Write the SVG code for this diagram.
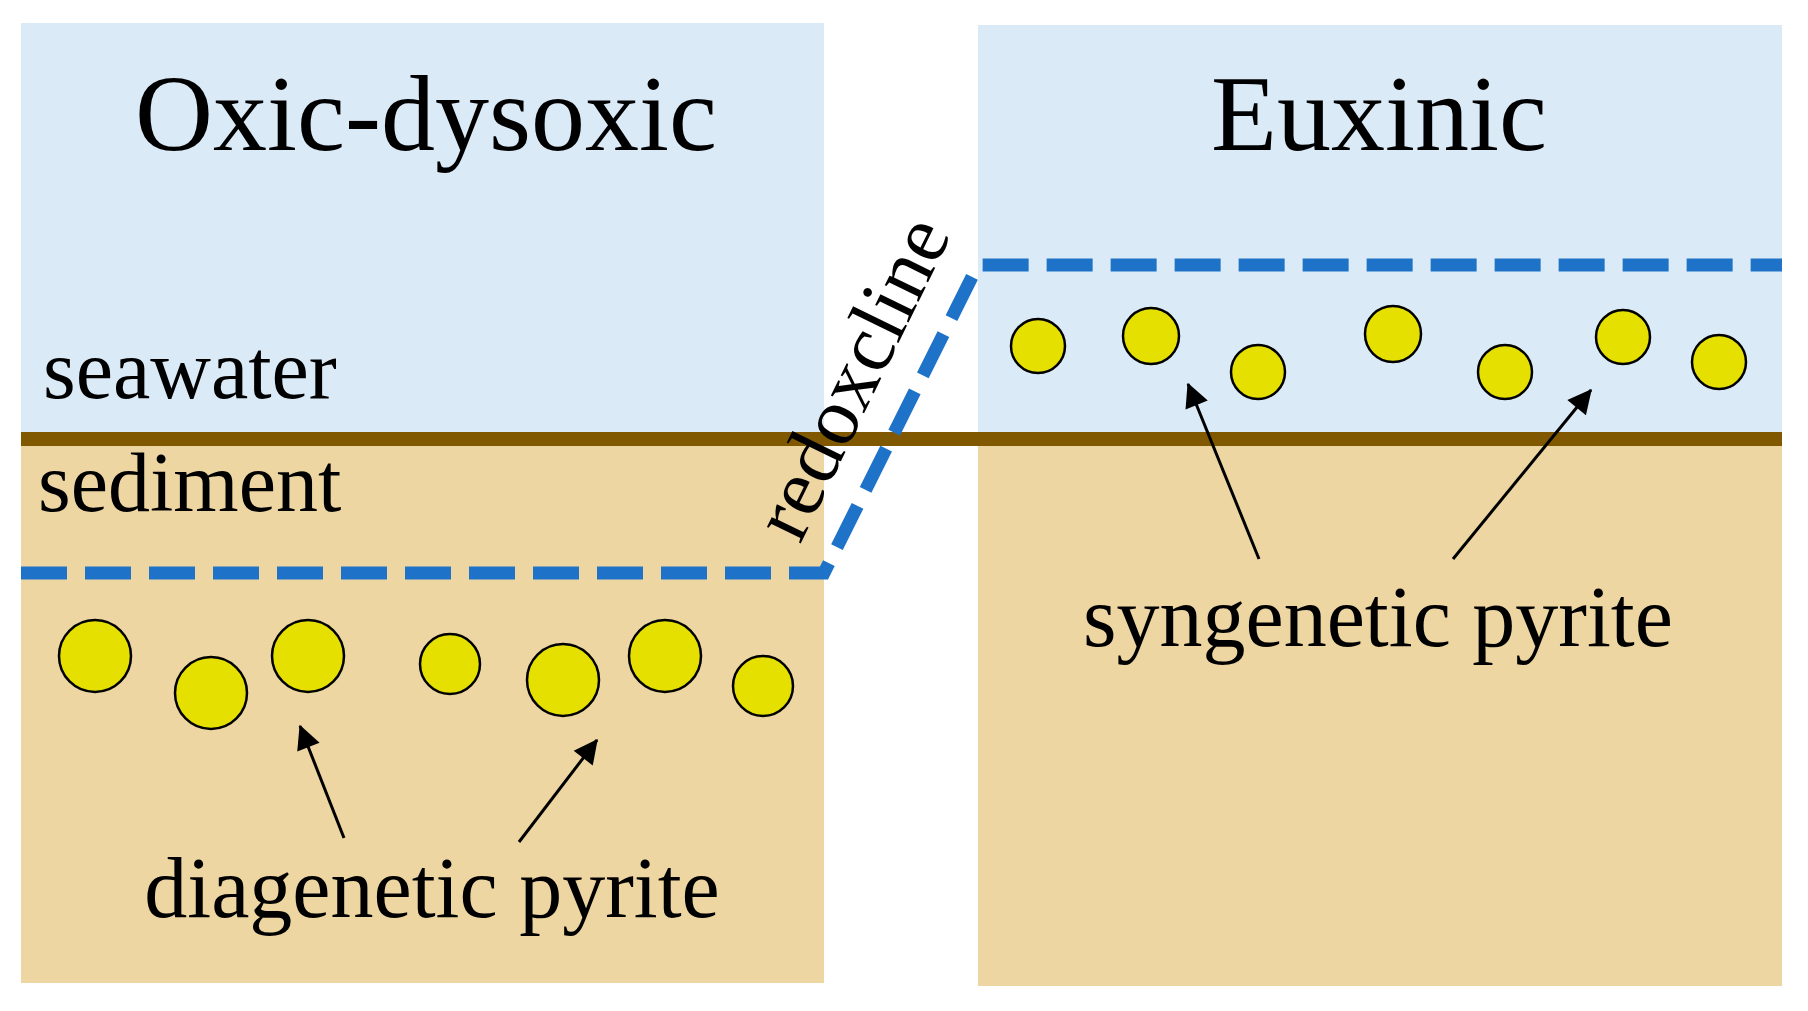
<svg xmlns="http://www.w3.org/2000/svg" width="1808" height="1011" viewBox="0 0 1808 1011">
<style>
.w{fill:#dbeaf7}.s{fill:#eed6a3}
.p{fill:#e5e000;stroke:#000;stroke-width:2.5}
.t{font-family:"Liberation Serif",serif;fill:#000}
.a{stroke:#000;stroke-width:3;fill:none;marker-end:url(#ah)}
</style>
<defs><marker id="ah" viewBox="0 0 10 10" refX="9" refY="5" markerWidth="8" markerHeight="8" markerUnits="userSpaceOnUse" orient="auto" style="overflow:visible"><path d="M0,0L10,5L0,10z" fill="#000" transform="scale(3) translate(-6.5,-3.3)"/></marker></defs>
<rect width="1808" height="1011" fill="#fff"/>
<g id="left-panel">
<rect class="w" x="21" y="23" width="803" height="412"/>
<rect class="s" x="21" y="440" width="803" height="543"/>
</g>
<g id="right-panel">
<rect class="w" x="978" y="25" width="804" height="410"/>
<rect class="s" x="978" y="440" width="804" height="546"/>
</g>
<rect id="sediment-line" x="21" y="432" width="1761" height="14" fill="#805800"/>
<g id="redoxcline-line"><path d="M21,573H824L978,265H1782" fill="none" stroke="#1e73c8" stroke-width="13" stroke-dasharray="46 18"/></g>
<g id="diagenetic-grains">
<circle class="p" cx="95" cy="656" r="36"/><circle class="p" cx="211" cy="693" r="36"/><circle class="p" cx="308" cy="656" r="36"/><circle class="p" cx="450" cy="664" r="30"/><circle class="p" cx="563" cy="680" r="36"/><circle class="p" cx="665" cy="656" r="36"/><circle class="p" cx="763" cy="686" r="30"/>
</g>
<g id="syngenetic-grains">
<circle class="p" cx="1038" cy="346" r="27"/><circle class="p" cx="1151" cy="336" r="28"/><circle class="p" cx="1258" cy="372" r="27"/><circle class="p" cx="1393" cy="334" r="28"/><circle class="p" cx="1505" cy="372" r="27"/><circle class="p" cx="1623" cy="337" r="27"/><circle class="p" cx="1719" cy="362" r="27"/>
</g>
<g id="connectors">
<line class="a" x1="344" y1="838" x2="300" y2="726"/>
<line class="a" x1="519" y1="842" x2="597" y2="740"/>
<line class="a" x1="1259" y1="559" x2="1188" y2="384"/>
<line class="a" x1="1453" y1="559" x2="1591" y2="390"/>
</g>
<g id="labels">
<text class="t" x="426" y="150" font-size="108" text-anchor="middle">Oxic-dysoxic</text>
<text class="t" x="1379" y="150" font-size="108" text-anchor="middle">Euxinic</text>
<text class="t" x="43" y="398" font-size="84">seawater</text>
<text class="t" x="38" y="511" font-size="84">sediment</text>
<text class="t" font-size="82" transform="translate(800,545) rotate(-64)">redoxcline</text>
<text class="t" x="1378" y="646" font-size="86" text-anchor="middle">syngenetic pyrite</text>
<text class="t" x="432" y="917" font-size="86" text-anchor="middle">diagenetic pyrite</text>
</g>
</svg>
